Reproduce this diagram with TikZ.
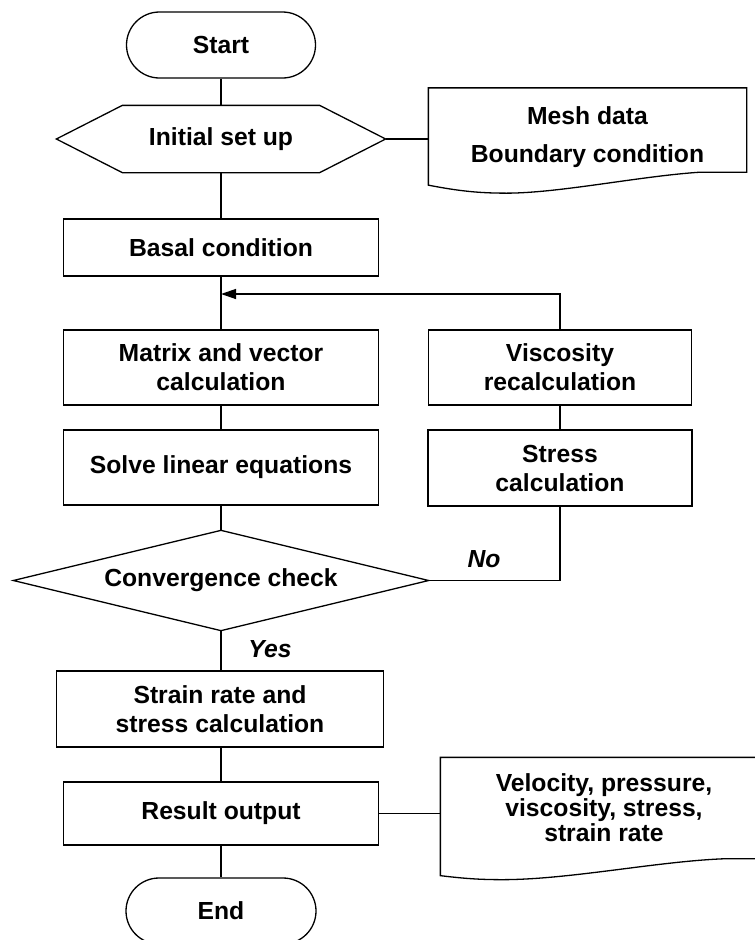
\documentclass[tikz,border=0pt]{standalone}
\usepackage{fontspec}
\setmainfont{Liberation Sans}
\usetikzlibrary{arrows.meta,calc}
\begin{document}
\begin{tikzpicture}[x=1pt,y=-1pt,line width=1.3pt,
  every node/.style={font=\fontsize{24.7pt}{29pt}\selectfont\bfseries, inner sep=0pt, align=center},
  procbox/.style={draw, rectangle},
  termbox/.style={draw, rectangle, rounded corners=33pt, minimum height=66pt},
  plainbox/.style={rectangle},
  lbl/.style={font=\fontsize{24.7pt}{29pt}\selectfont\bfseries\itshape},
  looparrow/.style={-{Triangle[length=15pt,width=10pt]}}]
\useasboundingbox (0,0) rectangle (755,940);
\clip (0,0) rectangle (755,940);

% nodes
\node[termbox, minimum width=189pt] (start) at (221,45) {Start};
\node[plainbox, minimum width=328pt, minimum height=66pt] (init) at (221,139) {Initial set up};
\node[plainbox, minimum width=317pt, minimum height=83pt] (mesh) at (587.5,130) {};
\node[font=\fontsize{24.7pt}{38pt}\selectfont\bfseries] (meshtext) at (587.5,137) {Mesh data\\Boundary condition};
\node[procbox, minimum width=315pt, minimum height=57pt] (basal) at (221,247.5) {Basal condition};
\node[procbox, minimum width=315pt, minimum height=75pt] (matrix) at (221,367.5) {Matrix and vector\\calculation};
\node[procbox, minimum width=315pt, minimum height=75pt] (solve) at (221,467.5) {Solve linear equations};
\node[procbox, minimum width=263pt, minimum height=75pt] (visc) at (560,367.5) {Viscosity\\recalculation};
\node[procbox, minimum width=264pt, minimum height=76pt] (stress) at (560,468) {Stress\\calculation};
\node[plainbox, minimum width=414pt, minimum height=99pt] (conv) at (221,580.5) {Convergence check};
\node[procbox, minimum width=327pt, minimum height=76pt] (strain) at (220,709) {Strain rate and\\stress calculation};
\node[procbox, minimum width=315pt, minimum height=63pt] (result) at (221,813.5) {Result output};
\node[plainbox, minimum width=326pt, minimum height=100pt, font=\fontsize{24.7pt}{25pt}\selectfont\bfseries] (out) at (604,808) {Velocity, pressure,\\viscosity, stress,\\strain rate};
\node[termbox, minimum width=190pt] (end) at (221,911) {End};
\node[lbl] (yes) at (270,649) {Yes};
\node[lbl] (no) at (484,559) {No};
\coordinate (loopin) at (221,294);

% shapes drawn from anchors
\draw (init.west) -- ([xshift=66pt]init.north west) -- ([xshift=-66pt]init.north east)
  -- (init.east) -- ([xshift=-66pt]init.south east) -- ([xshift=66pt]init.south west) -- cycle;
\draw (conv.north) -- (conv.east) -- (conv.south) -- (conv.west) -- cycle;
\draw ([xshift=-46pt]mesh.south east) -- (mesh.south east) -- (mesh.north east) -- (mesh.north west)
  -- ($(mesh.south west)+(0,13)$)
  .. controls ($(mesh.south west)+(31,19)$) and ($(mesh.south west)+(51,21)$) .. ($(mesh.south west)+(78,21)$)
  .. controls ($(mesh.south west)+(131,21)$) and ($(mesh.south west)+(211,4)$) .. ([xshift=-46pt]mesh.south east);
\draw ([xshift=-40pt]out.south east) -- (out.south east) -- (out.north east) -- (out.north west)
  -- ($(out.south west)+(0,17)$)
  .. controls ($(out.south west)+(25,20)$) and ($(out.south west)+(40,21)$) .. ($(out.south west)+(62,21)$)
  .. controls ($(out.south west)+(130,21)$) and ($(out.south west)+(220,2)$) .. ([xshift=-40pt]out.south east);

% connectors
\draw (start.south) -- (init.north);
\draw (init.east) -- (init.east -| mesh.west);
\draw (init.south) -- (basal.north);
\draw (basal.south) -- (matrix.north);
\draw (matrix.south) -- (solve.north);
\draw (solve.south) -- (conv.north);
\draw (conv.south) -- (conv.south |- strain.north);
\draw (strain.south -| result.north) -- (result.north);
\draw (result.south) -- (end.north);
\draw (result.east) -- (result.east -| out.west);
\draw (conv.east) -| (stress.south);
\draw (stress.north) -- (visc.south);
\draw[looparrow] (visc.north) |- (loopin);
\end{tikzpicture}
\end{document}
